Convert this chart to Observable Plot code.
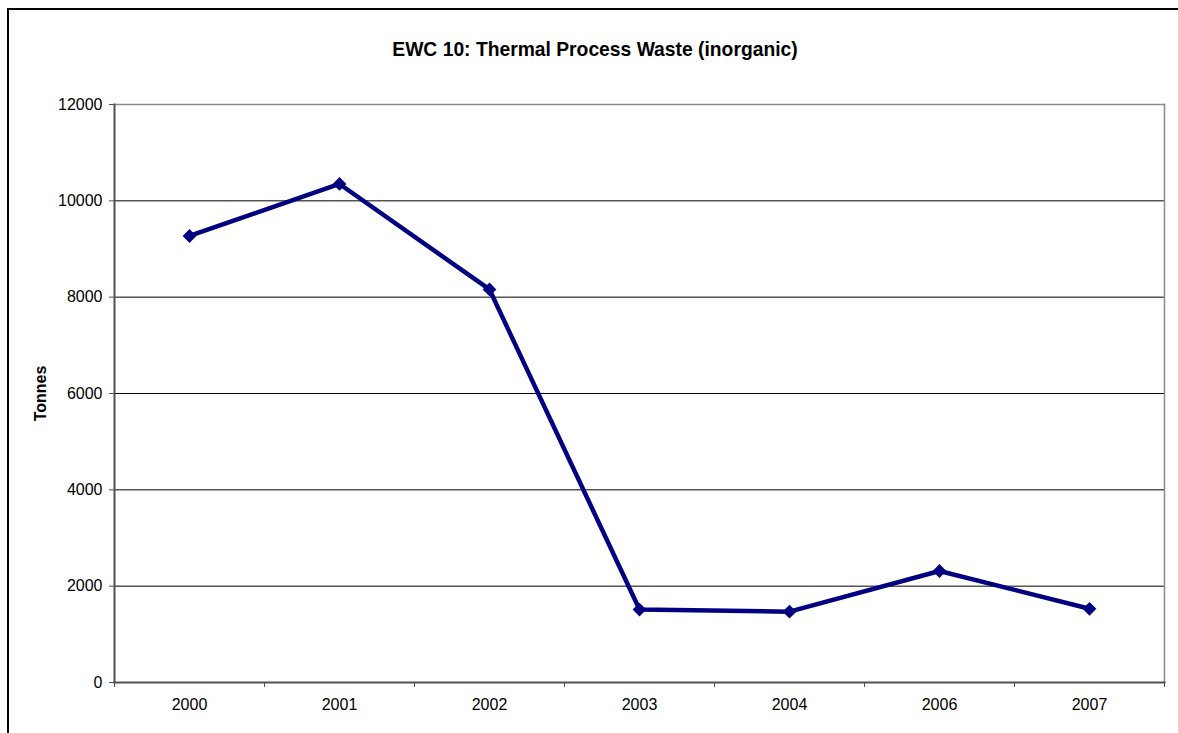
<!DOCTYPE html>
<html><head><meta charset="utf-8">
<script src="https://cdn.jsdelivr.net/npm/d3@7"></script>
<script src="https://cdn.jsdelivr.net/npm/@observablehq/plot@0.6"></script>
<style>
body{margin:0;background:#fff;}
#wrap{position:relative;width:1178px;height:733px;overflow:hidden;background:#fff;font-family:"Liberation Sans",Arial,sans-serif;}
#title{height:80px;box-sizing:border-box;padding-top:40px;width:1190px;text-align:center;font-weight:bold;font-size:19.3px;line-height:1;color:#000;white-space:nowrap;}
#border{position:absolute;left:7px;top:8px;width:1300px;height:900px;border:2px solid #000;pointer-events:none;}
</style></head><body>
<div id="wrap"><div id="title"></div><div id="chart"></div><div id="border"></div></div>
<script>
const titleText = "EWC 10: Thermal Process Waste (inorganic)";
const yLabel = "Tonnes";
const years = ["2000", "2001", "2002", "2003", "2004", "2006", "2007"];
const tonnes = [9270, 10350, 8160, 1515, 1470, 2315, 1530];
const yTicks = [0, 2000, 4000, 6000, 8000, 10000, 12000];

document.getElementById("title").textContent = titleText;

const rows = years.map((year, i) => ({i, year, tonnes: tonnes[i]}));
const xIndex = years.map((_, i) => i);
const xEdges = d3.range(-0.5, years.length, 1);

const chart = Plot.plot({
  width: 1178,
  height: 653,
  marginTop: 24,
  marginLeft: 114,
  marginRight: 14,
  marginBottom: 51,
  style: {fontFamily: "Liberation Sans, Arial, sans-serif", fontSize: "16px", color: "#000", background: "transparent"},
  x: {type: "linear", domain: [-0.5, years.length - 0.5], axis: null},
  y: {domain: [0, 12000], axis: null},
  marks: [
    Plot.gridY(yTicks.filter(t => t > 0 && t < 12000), {stroke: "#000", strokeOpacity: 1, strokeWidth: 1}),
    Plot.frame({anchor: "top", stroke: "#8a8a8a", strokeWidth: 1.5}),
    Plot.frame({anchor: "right", stroke: "#8a8a8a", strokeWidth: 1.5}),
    Plot.frame({anchor: "left", stroke: "#505050", strokeWidth: 2}),
    Plot.frame({anchor: "bottom", stroke: "#505050", strokeWidth: 2}),
    Plot.axisY({ticks: yTicks, tickSize: 5, tickPadding: 7, fontSize: 16, label: null, stroke: "#505050", tickFormat: d => String(d)}),
    Plot.axisX({ticks: xEdges, tickSize: 5, tickFormat: () => "", label: null, stroke: "#505050"}),
    Plot.axisX({ticks: xIndex, tickSize: 0, tickPadding: 16, fontSize: 16, label: null, tickFormat: i => years[i]}),
    Plot.text([yLabel], {text: d => d, frameAnchor: "left", textAnchor: "middle", rotate: -90, dx: -74, fontWeight: "bold", fontSize: 16}),
    Plot.line(rows, {x: "i", y: "tonnes", stroke: "#000080", strokeWidth: 4.5}),
    Plot.dot(rows, {x: "i", y: "tonnes", symbol: "diamond2", r: 6.2, fill: "#000080", stroke: "none"})
  ]
});
document.getElementById("chart").appendChild(chart);
</script>
</body></html>
